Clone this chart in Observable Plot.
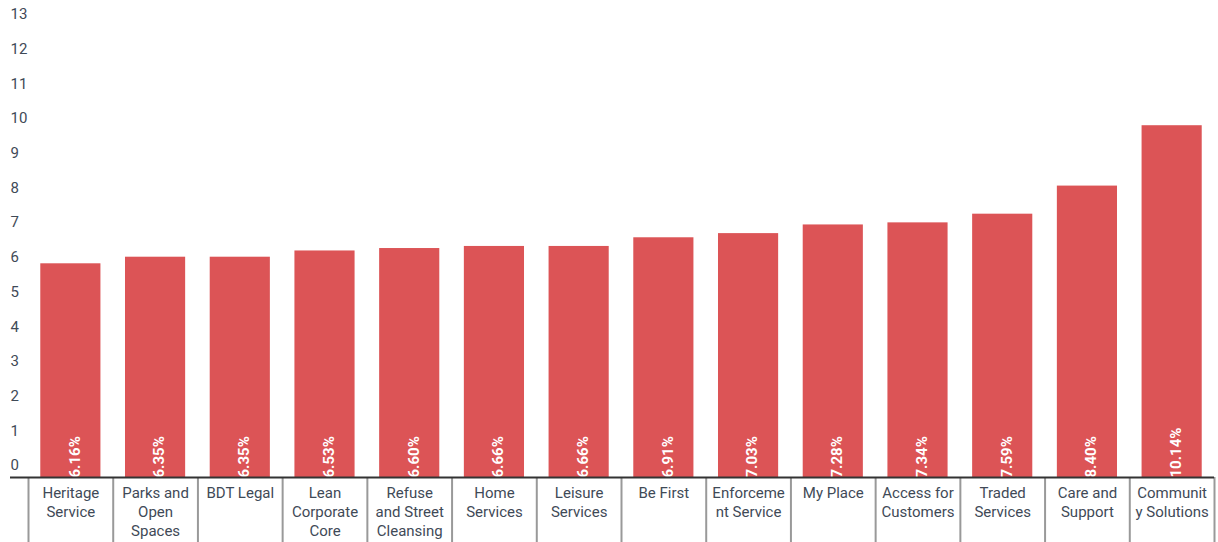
<!DOCTYPE html>
<html>
<head>
<meta charset="utf-8">
<script src="https://cdn.jsdelivr.net/npm/d3@7"></script>
<script src="https://cdn.jsdelivr.net/npm/@observablehq/plot@0.6"></script>
<style>
  html, body { margin: 0; padding: 0; background: #fff; }
  #chart svg { display: block; }
</style>
</head>
<body>
<div id="chart"></div>
<script>
const categories = [
  "Heritage Service", "Parks and Open Spaces", "BDT Legal", "Lean Corporate Core",
  "Refuse and Street Cleansing", "Home Services", "Leisure Services", "Be First",
  "Enforcement Service", "My Place", "Access for Customers", "Traded Services",
  "Care and Support", "Community Solutions"
];
const tickLabels = [
  "Heritage\nService", "Parks and\nOpen\nSpaces", "BDT Legal", "Lean\nCorporate\nCore",
  "Refuse\nand Street\nCleansing", "Home\nServices", "Leisure\nServices", "Be First",
  "Enforceme\nnt Service", "My Place", "Access for\nCustomers", "Traded\nServices",
  "Care and\nSupport", "Communit\ny Solutions"
];
const values = [6.16, 6.35, 6.35, 6.53, 6.60, 6.66, 6.66, 6.91, 7.03, 7.28, 7.34, 7.59, 8.40, 10.14];
const yTicks = d3.range(0, 14);

const data = categories.map((c, i) => ({category: c, value: values[i]}));
const labelOf = new Map(categories.map((c, i) => [c, tickLabels[i]]));

const width = 1218, height = 542;
const marginLeft = 28, marginRight = 4, marginTop = 26, marginBottom = 65;
const step = (width - marginLeft - marginRight) / categories.length;
const textColor = "#3f4a57";
const barColor = "#dc5456";

const chart = Plot.plot({
  width, height, marginLeft, marginRight, marginTop, marginBottom,
  style: {fontFamily: "Roboto", background: "#fff"},
  x: {domain: categories, paddingInner: 0.29, paddingOuter: 0.145, round: false, axis: null, label: null},
  y: {domain: [0, 13], axis: null, label: null},
  marks: [
    Plot.barY(data, {x: "category", y: "value", fill: barColor}),
    Plot.text(data, {
      x: "category", y: 0, text: d => d.value.toFixed(2) + "%",
      rotate: -90, textAnchor: "start", dx: 4,
      fill: "white", fontWeight: "bold", fontSize: 15
    }),
    Plot.axisY({
      ticks: yTicks, tickSize: 0, tickPadding: 0, textAnchor: "start", label: null,
      dx: 10 - marginLeft, dy: -12, fontSize: 15, fill: textColor, tickFormat: d => String(d)
    }),
    // category separators
    Plot.axisX({
      tickSize: marginBottom, dx: -step / 2, label: null,
      stroke: "#999", strokeWidth: 2, strokeOpacity: 1, text: null
    }),
    Plot.axisX({
      ticks: [categories[categories.length - 1]], tickSize: marginBottom, dx: step / 2, label: null,
      stroke: "#999", strokeWidth: 2, strokeOpacity: 1, text: null
    }),
    Plot.axisX({
      tickSize: 0, tickPadding: 7, fontSize: 15, fill: textColor, label: null,
      tickFormat: d => labelOf.get(d), lineHeight: 1.27
    }),
    Plot.ruleY([0], {stroke: "#333", strokeWidth: 2, insetLeft: 10 - marginLeft})
  ]
});
document.getElementById("chart").appendChild(chart);
</script>
</body>
</html>
